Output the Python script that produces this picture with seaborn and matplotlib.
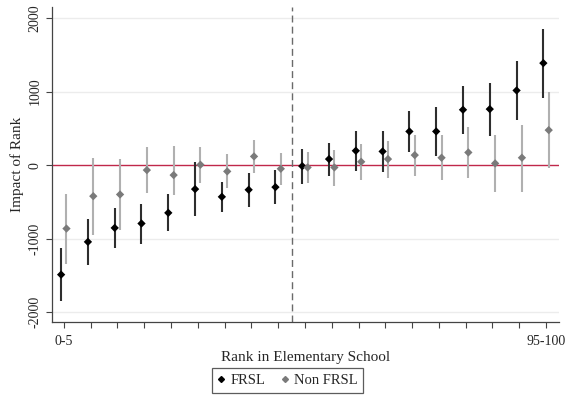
import numpy as np
import pandas as pd
import matplotlib
matplotlib.use("Agg")
import matplotlib.pyplot as plt
import seaborn as sns
from matplotlib.lines import Line2D

# rank bins (one reference bin is left out, dashed line marks it)
rank_pos = list(range(1, 20))
tick_labels = ["0-5"] + [""] * 17 + ["95-100"]

# FRSL estimates with 95% CI
frsl_est = [-1491, -1045, -855, -795, -650, -327, -432, -336, -300,
            -14, 82, 195, 186, 458, 458, 753, 762, 1016, 1388]
frsl_lo = [-1855, -1355, -1127, -1073, -900, -695, -636, -568, -536,
           -254, -145, -82, -91, 172, 118, 426, 390, 617, 912]
frsl_hi = [-1127, -732, -582, -527, -400, 45, -232, -105, -68,
           222, 299, 467, 458, 735, 789, 1070, 1120, 1415, 1859]

# Non FRSL estimates with 95% CI
non_est = [-864, -423, -400, -68, -136, 5, -86, 118, -50,
           -32, -32, 45, 82, 136, 100, 172, 23, 100, 476]
non_lo = [-1345, -945, -877, -377, -409, -241, -318, -105, -268,
          -249, -281, -204, -181, -154, -209, -177, -363, -367, -41]
non_hi = [-391, 95, 86, 245, 264, 250, 145, 341, 168,
          177, 209, 290, 327, 413, 408, 522, 404, 549, 989]

groups = ["FRSL", "Non FRSL"]
offsets = {"FRSL": -0.1, "Non FRSL": 0.1}
marker_col = {"FRSL": "#000000", "Non FRSL": "#7a7a7a"}
ci_col = {"FRSL": "#2e2e2e", "Non FRSL": "#b0b0b0"}

rows = []
for g, est, lo, hi in [("FRSL", frsl_est, frsl_lo, frsl_hi),
                       ("Non FRSL", non_est, non_lo, non_hi)]:
    for p, e, l, h in zip(rank_pos, est, lo, hi):
        rows.append({"group": g, "x": p + offsets[g], "est": e, "lo": l, "hi": h})
df = pd.DataFrame(rows)

sns.set_style("white")
plt.rcParams["font.family"] = ["Liberation Serif", "DejaVu Serif"]

fig = plt.figure(figsize=(5.75, 3.98), dpi=100)
ax = fig.add_axes([0.09, 0.192, 0.882, 0.791])

# light grid
for yv in [-2000, -1000, 1000, 2000]:
    ax.axhline(yv, color="#ececec", lw=1.0, zorder=0)

ax.axhline(0, color="#c0284a", lw=1.0, zorder=1)
ax.axvline(9.5, color="#6a6a6a", lw=1.0, ls=(0, (5, 3)), zorder=1)

# draw Non FRSL first so FRSL sits on top
for g in ["Non FRSL", "FRSL"]:
    sub = df[df["group"] == g]
    ax.vlines(sub["x"], sub["lo"], sub["hi"], color=ci_col[g], lw=1.5, zorder=2)

sns.scatterplot(data=df, x="x", y="est", hue="group", hue_order=groups,
                palette=marker_col, marker="D", s=18, edgecolor="none",
                legend=False, ax=ax, zorder=3)

ax.set_xlim(0.55, 19.48)
ax.set_ylim(-2130, 2155)
ax.set_xticks(rank_pos)
ax.set_xticklabels(tick_labels, fontsize=10)
ax.set_yticks([-2000, -1000, 0, 1000, 2000])
ax.set_yticklabels(["-2000", "-1000", "0", "1000", "2000"], rotation=90,
                   va="center", fontsize=10)
ax.tick_params(axis="both", direction="out", length=4, width=0.8,
               color="#444444", bottom=True, left=True)
ax.tick_params(axis="x", pad=6)
ax.set_xlabel("Rank in Elementary School", fontsize=11, labelpad=2)
ax.set_ylabel("Impact of Rank", fontsize=11, labelpad=3)

for side in ["top", "right"]:
    ax.spines[side].set_visible(False)
for side in ["left", "bottom"]:
    ax.spines[side].set_color("#444444")
    ax.spines[side].set_linewidth(0.9)

handles = [Line2D([], [], ls="none", marker="D", markersize=3,
                  color=marker_col[g], label=g) for g in groups]
leg = fig.legend(handles=handles, loc="lower center", ncol=2,
                 bbox_to_anchor=(0.5, 0.012), borderaxespad=0, frameon=True,
                 fancybox=False, fontsize=10.5, handlelength=0.5,
                 handletextpad=0.35, columnspacing=1.1, borderpad=0.4)
leg.get_frame().set_edgecolor("#333333")
leg.get_frame().set_linewidth(0.9)

fig.savefig("out.png", dpi=100)
